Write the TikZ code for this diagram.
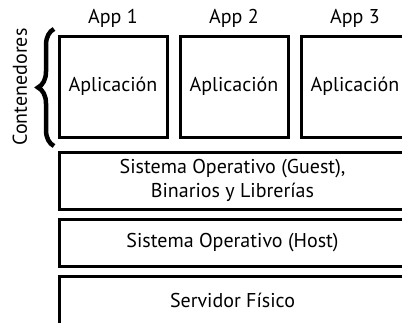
\documentclass[tikz,border=0pt]{standalone}
\usepackage{fontspec}
\setmainfont{PT Sans}
\usetikzlibrary{positioning,decorations.pathreplacing}
\tikzset{app/.style={draw, line width=3pt, outer sep=0pt, inner sep=0pt,
    minimum width=108pt, minimum height=101pt},
  layer/.style={draw, line width=3pt, outer sep=0pt, inner sep=0pt,
    minimum width=347pt, align=center},
  brc/.style={decorate, decoration={brace, amplitude=16pt}, line width=4.5pt}}

\begin{document}
\begin{tikzpicture}[x=1pt, y=-1pt, font=\fontsize{20}{24}\selectfont]
  \useasboundingbox (0,0) rectangle (402,322);
  % containers with their apps
  \node[app] (a1) at (113,86.5) {Aplicación};
  \node[app, right=13pt of a1] (a2) {Aplicación};
  \node[app, right=13pt of a2] (a3) {Aplicación};
  \node[above=5pt of a1] (t1) {App 1};
  \node[above=5pt of a2] (t2) {App 2};
  \node[above=5pt of a3] (t3) {App 3};
  % stacked layers
  \node[layer, minimum height=57pt, anchor=north west] (os) at (59,152)
    {Sistema Operativo (Guest),\\Binarios y Librerías};
  \node[layer, minimum height=47pt, below=10pt of os] (host) {Sistema Operativo (Host)};
  \node[layer, minimum height=48pt, below=10pt of host] (hw) {Servidor Físico};
  % brace round the containers
  \coordinate (bb) at (54,146);
  \coordinate (bt) at (54,29);
  \draw[brc] (bb) -- (bt);
  \node[rotate=90] (cont) at (20,87) {Contenedores};
\end{tikzpicture}
\end{document}
